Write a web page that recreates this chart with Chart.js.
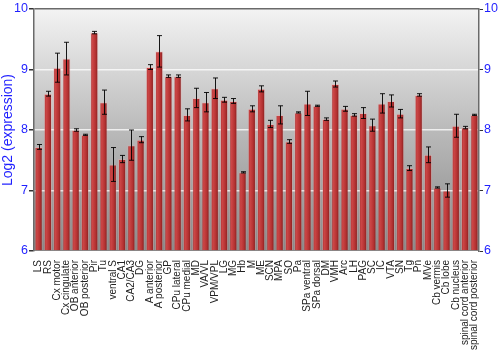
<!DOCTYPE html>
<html>
<head>
<meta charset="utf-8">
<script src="https://cdn.jsdelivr.net/npm/chart.js@4/dist/chart.umd.min.js"></script>
<style>
html,body{margin:0;padding:0;background:#fff;}
#wrap{width:500px;height:350px;position:relative;}
</style>
</head>
<body>
<div id="wrap"><canvas id="c" width="500" height="350"></canvas></div>
<script>
const categories = ["LS","RS","Cx motor","Cx cingulate","OB anterior","OB posterior","Pir","Tu","ventral S","CA1","CA2/CA3","DG","A anterior","A posterior","GP","CPu lateral","CPu medial","MD","VA/VL","VPM/VPL","LG","MG","Hb","M","ME","SCN","MPA","SO","Pa","SPa ventral","SPa dorsal","DM","VMH","Arc","LH","PAG","SC","IC","VTA","SN","Tg","Pn","MVe","Cb vermis","Cb lobe","Cb nucleus","spinal cord anterior","spinal cord posterior"];
const values = [7.72,8.60,9.03,9.18,8.00,7.92,9.61,8.46,7.43,7.52,7.75,7.84,9.04,9.30,8.89,8.89,8.25,8.53,8.46,8.69,8.50,8.48,7.30,8.35,8.68,8.10,8.25,7.81,8.29,8.44,8.40,8.18,8.76,8.35,8.25,8.28,8.08,8.44,8.48,8.27,7.37,8.58,7.59,7.05,7.00,8.07,8.04,8.25];
const errors = [0.04,0.04,0.24,0.27,0.02,0.01,0.02,0.20,0.28,0.06,0.25,0.05,0.04,0.26,0.02,0.02,0.10,0.16,0.16,0.17,0.04,0.04,0.01,0.05,0.05,0.06,0.15,0.03,0.01,0.20,0.01,0.02,0.05,0.04,0.02,0.09,0.10,0.16,0.10,0.07,0.04,0.02,0.13,0.01,0.11,0.19,0.02,0.01];
const yTicks = [6,7,8,9,10];
const yTitle = "Log2 (expression)";

const FONT = "'Liberation Sans', Arial, sans-serif";
const BLUE = "#1f1fff";
const CAT_PCT = 1.0, BAR_PCT = 0.88;

const bgPlugin = {
  id: 'bg',
  beforeDraw(chart) {
    const {ctx, chartArea: a} = chart;
    const g = ctx.createLinearGradient(0, a.top, 0, a.bottom);
    g.addColorStop(0, '#f3f3f3');
    g.addColorStop(0.5, '#bababa');
    g.addColorStop(1, '#888888');
    ctx.save();
    ctx.fillStyle = g;
    ctx.fillRect(a.left, a.top, a.right - a.left, a.bottom - a.top);
    ctx.restore();
  }
};

const errPlugin = {
  id: 'err',
  afterDatasetsDraw(chart) {
    const {ctx} = chart;
    const y = chart.scales.y;
    const meta = chart.getDatasetMeta(0);
    ctx.save();
    ctx.strokeStyle = 'rgba(0,0,0,0.9)';
    ctx.lineWidth = 1;
    meta.data.forEach((bar, i) => {
      const x = Math.round(bar.x) + 0.5;
      const t = y.getPixelForValue(values[i] + errors[i]);
      const b = y.getPixelForValue(values[i] - errors[i]);
      ctx.beginPath();
      ctx.moveTo(x, t); ctx.lineTo(x, b);
      ctx.moveTo(x - 2.5, t); ctx.lineTo(x + 2.5, t);
      ctx.moveTo(x - 2.5, b); ctx.lineTo(x + 2.5, b);
      ctx.stroke();
    });
    ctx.restore();
  }
};

function barFill(c) {
  const chart = c.chart;
  const a = chart.chartArea;
  if (!a) return '#b83232';
  const xs = chart.scales.x;
  const cx = xs.getPixelForValue(c.dataIndex);
  const w = (a.right - a.left) / categories.length * CAT_PCT * BAR_PCT;
  const g = chart.ctx.createLinearGradient(cx - w / 2, 0, cx + w / 2, 0);
  g.addColorStop(0, '#a42a2a');
  g.addColorStop(0.28, '#cc4646');
  g.addColorStop(0.65, '#b43232');
  g.addColorStop(1, '#7c1a1a');
  return g;
}

new Chart(document.getElementById('c'), {
  type: 'bar',
  data: {
    labels: categories,
    datasets: [{
      data: values,
      backgroundColor: barFill,
      borderColor: 'rgba(255,170,170,0.3)',
      borderWidth: 1,
      categoryPercentage: CAT_PCT,
      barPercentage: BAR_PCT,
      base: 6
    }]
  },
  options: {
    responsive: false,
    animation: false,
    devicePixelRatio: 1,
    layout: {padding: {top: 9, right: 0, left: 0, bottom: 0}},
    plugins: {legend: {display: false}, tooltip: {enabled: false}},
    scales: {
      x: {
        grid: {display: false},
        border: {display: false},
        ticks: {
          autoSkip: false, maxRotation: 90, minRotation: 90,
          padding: 1,
          color: '#222',
          font: {family: FONT, size: 10}
        },
        afterFit(s) { s.height = 99; }
      },
      y: {
        position: 'left',
        min: 6, max: 10,
        afterBuildTicks(s) { s.ticks = yTicks.map(v => ({value: v})); },
        grid: {
          color: c => c.tick && c.tick.value === 10 ? '#6a6a6a' : (c.tick && c.tick.value === 6 ? 'rgba(0,0,0,0)' : 'rgba(255,255,255,0.75)'),
          lineWidth: 1.5,
          tickColor: '#333',
          tickLength: 5
        },
        border: {display: true, color: '#6a6a6a', width: 1.5},
        ticks: {color: BLUE, padding: 1, font: {family: FONT, size: 12.5}},
        title: {display: true, text: yTitle, color: BLUE, padding: {top: 0, bottom: 2}, font: {family: FONT, size: 14}},
        afterFit(s) { s.width = 34; }
      },
      y2: {
        position: 'right',
        min: 6, max: 10,
        afterBuildTicks(s) { s.ticks = yTicks.map(v => ({value: v})); },
        grid: {drawOnChartArea: false, tickColor: '#333', tickLength: 4},
        border: {display: true, color: '#6a6a6a', width: 1.5},
        ticks: {color: BLUE, padding: 1, font: {family: FONT, size: 12.5}},
        afterFit(s) { s.width = 21; }
      }
    }
  },
  plugins: [bgPlugin, errPlugin]
});
</script>
</body>
</html>
